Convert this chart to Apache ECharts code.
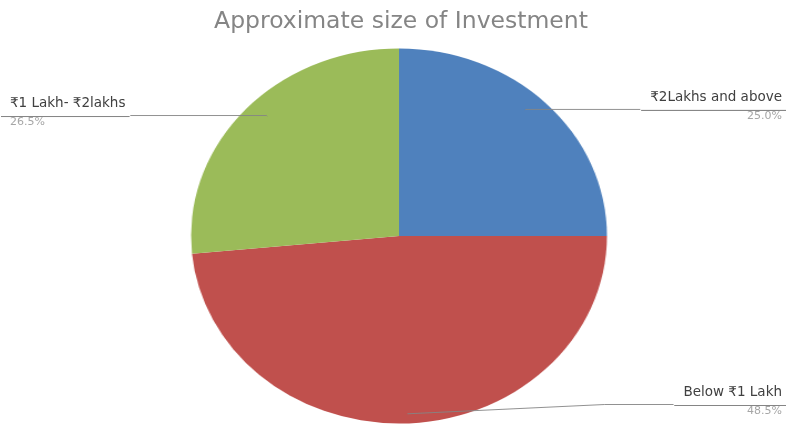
<!DOCTYPE html>
<html>
<head>
<meta charset="utf-8">
<title>Approximate size of Investment</title>
<script src="https://cdn.jsdelivr.net/npm/echarts@6/dist/echarts.min.js"></script>
<style>
  html, body { margin: 0; padding: 0; background: #ffffff; }
  #wrap { position: relative; width: 787px; height: 425px; overflow: hidden; }
  #pie, #labels { position: absolute; left: 0; top: 0; width: 787px; height: 425px; }
  /* the pie is drawn as an ellipse: stretch the slice layer horizontally about its centre */
  #pie { transform: scaleX(1.109); transform-origin: 399px 236px; }
</style>
</head>
<body>
<div id="wrap">
  <div id="pie"></div>
  <div id="labels"></div>
</div>
<script>
// Survey answers: approximate size of investment (share of respondents, %)
const categories = ['₹2Lakhs and above', 'Below ₹1 Lakh', '₹1 Lakh- ₹2lakhs'];
const shares = [25.0, 48.5, 26.5];
const sliceColors = ['#4f81bd', '#c0504d', '#9bbb59'];
const chartTitle = 'Approximate size of Investment';

const pieData = categories.map((name, i) => ({ name: name, value: shares[i] }));

const CENTER = [399, 236];

// Slice layer (no text, stretched by CSS into an ellipse)
const pieChart = echarts.init(document.getElementById('pie'), null, { renderer: 'canvas' });
pieChart.setOption({
  animation: false,
  color: sliceColors,
  series: [{
    type: 'pie',
    center: CENTER,
    radius: 187.5,
    startAngle: 90,
    clockwise: true,
    silent: true,
    label: { show: false },
    labelLine: { show: false },
    itemStyle: { borderWidth: 0 },
    data: pieData
  }]
});

// Text layer: title and callout labels, unstretched
const labelChart = echarts.init(document.getElementById('labels'), null, { renderer: 'canvas' });
labelChart.setOption({
  animation: false,
  title: {
    text: chartTitle,
    left: 396,
    top: 5,
    textAlign: 'center',
    textStyle: { fontFamily: 'DejaVu Sans', fontSize: 23.5, fontWeight: 'normal', color: '#858585' }
  },
  series: [{
    type: 'pie',
    center: CENTER,
    radius: 178,
    startAngle: 90,
    clockwise: true,
    silent: true,
    itemStyle: { color: 'rgba(0,0,0,0)' },
    label: {
      show: true,
      position: 'outside',
      alignTo: 'edge',
      edgeDistance: 1,
      distanceToLabelLine: 0,
      formatter: p => '{n|' + p.name + '}\n{hr|}\n{p|' + p.value.toFixed(1) + '%}',
      rich: {
        n: { fontFamily: 'DejaVu Sans', fontSize: 13.5, color: '#404040', lineHeight: 20, padding: [0, 4, 5, 9] },
        hr: { width: '100%', height: 0, borderColor: '#858585', borderWidth: 0.9, lineHeight: 1 },
        p: { fontFamily: 'DejaVu Sans', fontSize: 11, color: '#a6a6a6', lineHeight: 18, padding: [0, 4, 7, 9] }
      }
    },
    labelLine: {
      show: true,
      length: 1,
      length2: 10,
      lineStyle: { color: '#858585', width: 0.9 }
    },
    data: pieData
  }]
});
</script>
</body>
</html>
